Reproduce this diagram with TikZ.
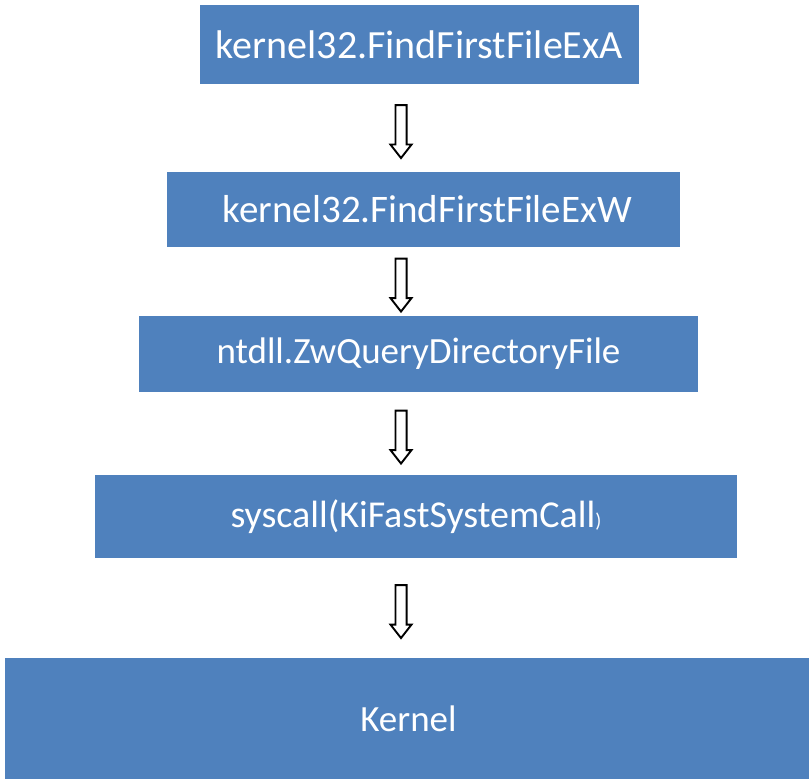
\documentclass[tikz,border=0pt]{standalone}
\usepackage{fontspec}
\setmainfont{Carlito}
\usepackage{xcolor}
\definecolor{cBox}{HTML}{4F81BD}
\usepackage{tikz}
\usetikzlibrary{calc,shapes.arrows}
\newcommand{\boxfont}[1]{\fontsize{#1}{#1}\selectfont}
\tikzset{
  node-box/.style={fill=cBox,text=white,inner sep=0pt,font=\boxfont{38}},
  arrow-hollow/.style={single arrow,draw=black,fill=white,line width=1.9pt,
    shape border rotate=270,minimum height=53pt,inner sep=4.6pt,
    single arrow head extend=5pt,single arrow tip angle=76},
}

\begin{document}
\begin{tikzpicture}[x=1pt,y=-1pt]
  \useasboundingbox (0,0) rectangle (809,779);
  \node[node-box,font=\boxfont{40},minimum width=439pt,minimum height=79pt] (ffa) at (419.5,44.5) {kernel32.FindFirstFileExA};
  \node[node-box,font=\boxfont{39},minimum width=513pt,minimum height=75pt] (ffw) at (423.5,209.5) {\hspace{8pt}kernel32.FindFirstFileExW};
  \node[node-box,font=\boxfont{37},minimum width=559pt,minimum height=76pt] (zwq) at (418.5,354) {ntdll.ZwQueryDirectoryFile};
  \node[node-box,minimum width=642pt,minimum height=83pt] (sysc) at (416,516.5) {syscall(KiFastSystemCall{\boxfont{20})}};
  \node[node-box,font=\boxfont{37},minimum width=804pt,minimum height=121pt] (kern) at (407,718.5) {\hspace{3pt}Kernel};
  % hollow arrows between the layers
  \coordinate (axis) at (401,0);
  \coordinate (m1) at ($(ffa.south)!.5!(ffw.north)$);
  \coordinate (m2) at ($(ffw.south)!.5!(zwq.north)$);
  \coordinate (m3) at ($(zwq.south)!.5!(sysc.north)$);
  \coordinate (m4) at ($(sysc.south)!.5!(kern.north)$);
  \node[arrow-hollow] (a1) at (axis |- m1) {};
  \node[arrow-hollow] (a2) at (axis |- m2) {};
  \node[arrow-hollow] (a3) at (axis |- m3) {};
  \node[arrow-hollow] (a4) at (axis |- m4) {};
\end{tikzpicture}
\end{document}
